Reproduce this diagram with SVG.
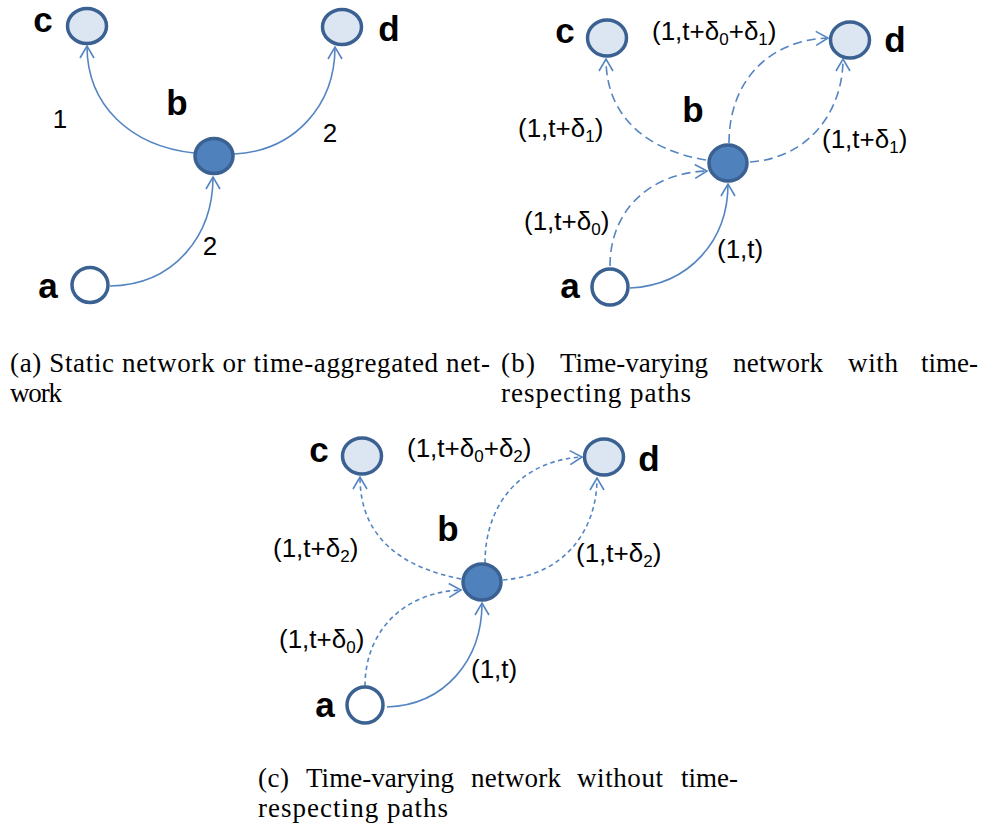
<svg xmlns="http://www.w3.org/2000/svg" width="985" height="829" viewBox="0 0 985 829">
<style>
.nd{stroke:#3A6191;stroke-width:3.5}
.lt{fill:#DCE6F2}
.dk{fill:#4F81BD}
.wh{fill:#FFFFFF}
.e{fill:none;stroke:#5485C2;stroke-width:1.6}
.d1{stroke-dasharray:9 5}
.d2{stroke-dasharray:4.5 3.5}
.nl{font-family:"Liberation Sans",Arial,sans-serif;font-weight:bold;font-size:35px;fill:#000;text-anchor:middle}
.el{font-family:"Liberation Sans",Arial,sans-serif;font-size:26px;fill:#000}
.sb{font-size:17px}
.cap{font-family:"Liberation Serif","Times New Roman",serif;font-size:27px;fill:#000}
</style>
<defs>
<marker id="ah" viewBox="-15 -10 18 20" refX="0" refY="0" markerWidth="18" markerHeight="20" markerUnits="userSpaceOnUse" orient="auto">
<path d="M-12,-7 L0,0 L-12,7" fill="none" stroke="#5485C2" stroke-width="1.6"/>
</marker>
</defs>

<g id="connectors">
<!-- (a) -->
<path class="e" d="M110,286 C175,285 213,235 213,177" marker-end="url(#ah)"/>
<path class="e" d="M194,153 C130,146 87,105 87,46" marker-end="url(#ah)"/>
<path class="e" d="M234,154 C295,151 335,105 335,47" marker-end="url(#ah)"/>
<!-- (b) -->
<path class="e" d="M630,288 C690,285 728,240 728,184" marker-end="url(#ah)"/>
<path class="e d1" d="M610,266 C610,210 650,173 707,171" marker-end="url(#ah)"/>
<path class="e d1" d="M706,160 C645,150 606,115 606,59" marker-end="url(#ah)"/>
<path class="e d1" d="M729,143 C729,80 770,40 828,38" marker-end="url(#ah)"/>
<path class="e d1" d="M750,162 C810,158 843,110 843,59" marker-end="url(#ah)"/>
<!-- (c) -->
<path class="e" d="M387,707 C445,705 482,660 482,603" marker-end="url(#ah)"/>
<path class="e d2" d="M365,686 C365,630 405,592 461,590" marker-end="url(#ah)"/>
<path class="e d2" d="M461,579 C405,568 360,540 360,477" marker-end="url(#ah)"/>
<path class="e d2" d="M485,563 C485,500 525,460 582,457" marker-end="url(#ah)"/>
<path class="e d2" d="M503,580 C565,575 597,530 597,478" marker-end="url(#ah)"/>
</g>

<!-- Panel (a) nodes -->
<g id="a_c"><ellipse class="nd lt" cx="87" cy="26" rx="19.5" ry="17.5"/><text class="nl" x="43" y="32">c</text></g>
<g id="a_d"><ellipse class="nd lt" cx="342" cy="27" rx="19.5" ry="17.5"/><text class="nl" x="389" y="41">d</text></g>
<g id="a_b"><ellipse class="nd dk" cx="214" cy="156" rx="19" ry="17.5"/><text class="nl" x="177" y="115">b</text></g>
<g id="a_a"><ellipse class="nd wh" cx="90" cy="285" rx="18" ry="17.5"/><text class="nl" x="48" y="298">a</text></g>
<g id="a_labels">
<text class="el" x="60" y="128" text-anchor="middle">1</text>
<text class="el" x="330" y="142" text-anchor="middle">2</text>
<text class="el" x="210" y="255" text-anchor="middle">2</text>
</g>

<!-- Panel (b) nodes -->
<g id="b_c"><ellipse class="nd lt" cx="607" cy="38" rx="19.5" ry="18"/><text class="nl" x="565" y="43">c</text></g>
<g id="b_d"><ellipse class="nd lt" cx="850" cy="40" rx="19.5" ry="18"/><text class="nl" x="895" y="52">d</text></g>
<g id="b_b"><ellipse class="nd dk" cx="728" cy="163" rx="19" ry="18"/><text class="nl" x="693" y="122">b</text></g>
<g id="b_a"><ellipse class="nd wh" cx="610" cy="287" rx="18" ry="18"/><text class="nl" x="570" y="298">a</text></g>
<g id="b_labels">
<text class="el" x="652" y="40">(1,t+δ<tspan class="sb" dy="5">0</tspan><tspan dy="-5">+δ</tspan><tspan class="sb" dy="5">1</tspan><tspan dy="-5">)</tspan></text>
<text class="el" x="518" y="137">(1,t+δ<tspan class="sb" dy="5">1</tspan><tspan dy="-5">)</tspan></text>
<text class="el" x="822" y="148">(1,t+δ<tspan class="sb" dy="5">1</tspan><tspan dy="-5">)</tspan></text>
<text class="el" x="524" y="230">(1,t+δ<tspan class="sb" dy="5">0</tspan><tspan dy="-5">)</tspan></text>
<text class="el" x="717" y="258">(1,t)</text>
</g>

<!-- Panel (c) nodes -->
<g id="c_c"><ellipse class="nd lt" cx="362" cy="456" rx="19.5" ry="18"/><text class="nl" x="319" y="462">c</text></g>
<g id="c_d"><ellipse class="nd lt" cx="604" cy="457" rx="19.5" ry="18"/><text class="nl" x="649" y="471">d</text></g>
<g id="c_b"><ellipse class="nd dk" cx="482" cy="582" rx="19" ry="18"/><text class="nl" x="448" y="541">b</text></g>
<g id="c_a"><ellipse class="nd wh" cx="365" cy="705" rx="18" ry="18"/><text class="nl" x="325" y="717">a</text></g>
<g id="c_labels">
<text class="el" x="407" y="457">(1,t+δ<tspan class="sb" dy="5">0</tspan><tspan dy="-5">+δ</tspan><tspan class="sb" dy="5">2</tspan><tspan dy="-5">)</tspan></text>
<text class="el" x="273" y="557">(1,t+δ<tspan class="sb" dy="5">2</tspan><tspan dy="-5">)</tspan></text>
<text class="el" x="576" y="562">(1,t+δ<tspan class="sb" dy="5">2</tspan><tspan dy="-5">)</tspan></text>
<text class="el" x="279" y="648">(1,t+δ<tspan class="sb" dy="5">0</tspan><tspan dy="-5">)</tspan></text>
<text class="el" x="471" y="678">(1,t)</text>
</g>

<!-- Captions -->
<g id="captions">
<text class="cap" x="10" y="372" textLength="480" lengthAdjust="spacing">(a) Static network or time-aggregated net-</text>
<text class="cap" x="10" y="402" textLength="52" lengthAdjust="spacing">work</text>
<text class="cap" x="501" y="372" textLength="34" lengthAdjust="spacing">(b)</text>
<text class="cap" x="560" y="372" textLength="148" lengthAdjust="spacing">Time-varying</text>
<text class="cap" x="733" y="372" textLength="90" lengthAdjust="spacing">network</text>
<text class="cap" x="848" y="372" textLength="50" lengthAdjust="spacing">with</text>
<text class="cap" x="921" y="372" textLength="57" lengthAdjust="spacing">time-</text>
<text class="cap" x="501" y="402" textLength="190" lengthAdjust="spacing">respecting paths</text>
<text class="cap" x="258" y="787" textLength="31" lengthAdjust="spacing">(c)</text>
<text class="cap" x="306" y="787" textLength="148" lengthAdjust="spacing">Time-varying</text>
<text class="cap" x="471" y="787" textLength="90" lengthAdjust="spacing">network</text>
<text class="cap" x="577" y="787" textLength="86" lengthAdjust="spacing">without</text>
<text class="cap" x="681" y="787" textLength="57" lengthAdjust="spacing">time-</text>
<text class="cap" x="258" y="817" textLength="190" lengthAdjust="spacing">respecting paths</text>
</g>
</svg>
